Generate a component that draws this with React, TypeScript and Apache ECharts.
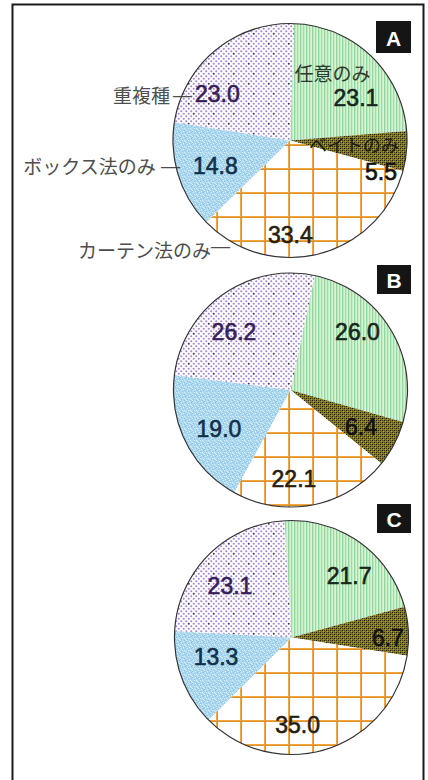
import React, { useEffect, useRef } from 'react';
import * as echarts from 'echarts';

// ---- data ----
const categories = ['任意のみ', 'ベイトのみ', 'カーテン法のみ', 'ボックス法のみ', '重複種'];
const panelLabels = ['A', 'B', 'C'];
const valuesA = [23.1, 5.5, 33.4, 14.8, 23.0];
const valuesB = [26.0, 6.4, 22.1, 19.0, 26.2];
const valuesC = [21.7, 6.7, 35.0, 13.3, 23.1];
const seriesValues = [valuesA, valuesB, valuesC];

// ---- layout / style ----
const pieCenters = [[290, 140.5], [290.5, 390], [291.5, 637.5]];
const pieRadius = 117;
const startAngles = [88, 78, 93.5];
const labelOffsets = [
  [[0, -10.5], [2.8, 13.9], [-110.1, 35], [-101.0, 6.8], [-74.5, 1]],
  [[14.3, -25.8], [15.9, 8.2], [-8.4, 28.7], [-16.7, 11.2], [-21, -7.8]],
  [[21.7, -11.5], [35, 3.4], [-12.9, 29], [-18, -2.8], [-17.9, -8.1]],
];
const badgeRects = [[376, 21, 35, 32], [377, 265, 34, 29], [377, 504, 34, 29]];

const VAL_FONT = '"Liberation Sans", Arial, sans-serif';
const JP_FONT = '"Noto Sans CJK JP", "Noto Sans CJK SC", sans-serif';
const valueColors = ['#16261a', '#121208', '#261d0e', '#123049', '#362056'];
const nameColor = '#4d4d4d';

function tile(w: number, h: number, draw: (ctx: CanvasRenderingContext2D) => void) {
  const c = document.createElement('canvas');
  c.width = w;
  c.height = h;
  const ctx = c.getContext('2d') as CanvasRenderingContext2D;
  draw(ctx);
  return { image: c, repeat: 'repeat', imageWidth: w, imageHeight: h };
}

function px(ctx: CanvasRenderingContext2D, color: string, pts: number[][]) {
  ctx.fillStyle = color;
  pts.forEach(([x, y]) => ctx.fillRect(x, y, 1, 1));
}

function dot(ctx: CanvasRenderingContext2D, color: string, pts: number[][], r: number) {
  ctx.fillStyle = color;
  pts.forEach(([x, y]) => {
    ctx.beginPath();
    ctx.arc(x, y, r, 0, Math.PI * 2);
    ctx.fill();
  });
}

function makePatterns() {
  const green = tile(6, 6, (ctx) => {
    const cols = ['#93d59e', '#bdebc0', '#d2f4d3', '#9cdaa6', '#c5eec7', '#d6f6d6'];
    cols.forEach((c, i) => {
      ctx.fillStyle = c;
      ctx.fillRect(i, 0, 1, 6);
    });
  });
  const olive = tile(4, 4, (ctx) => {
    ctx.fillStyle = '#7f7a22';
    ctx.fillRect(0, 0, 4, 4);
    px(ctx, '#1e1d08', [[0, 0], [2, 2]]);
    px(ctx, '#4b4813', [[0, 2], [2, 0]]);
    px(ctx, '#aea53a', [[1, 1], [3, 3]]);
  });
  const grid = tile(24, 24, (ctx) => {
    ctx.fillStyle = '#ffffff';
    ctx.fillRect(0, 0, 24, 24);
    ctx.fillStyle = '#f2a63a';
    ctx.fillRect(0, 0, 24, 2);
    ctx.fillRect(0, 0, 2, 24);
    ctx.fillStyle = 'rgba(150,90,20,0.25)';
    ctx.fillRect(0, 1, 24, 1);
    ctx.fillRect(1, 0, 1, 24);
  });
  const blue = tile(6, 6, (ctx) => {
    ctx.fillStyle = '#abd8f0';
    ctx.fillRect(0, 0, 6, 6);
    px(ctx, '#d8eef9', [[1, 0], [4, 2], [0, 4], [3, 5], [5, 3], [2, 2]]);
    px(ctx, '#8cc4e4', [[2, 1], [5, 0], [1, 3], [4, 4], [0, 5]]);
  });
  const dots = tile(20, 20, (ctx) => {
    ctx.fillStyle = '#ffffff';
    ctx.fillRect(0, 0, 20, 20);
    const pts: number[][] = [];
    for (let row = 0; row < 8; row++) {
      for (let col = 0; col < 4; col++) {
        pts.push([1.25 + col * 5 + (row % 2) * 2.5, 1.25 + row * 2.5]);
      }
    }
    const darkIdx = [5, 22];
    dot(ctx, '#a486d6', pts.filter((_, i) => darkIdx.indexOf(i) < 0), 1.05);
    dot(ctx, '#3a3150', pts.filter((_, i) => darkIdx.indexOf(i) >= 0), 1.0);
  });
  return [green, olive, grid, blue, dots];
}

const valStyle = (i: number, extra: any = {}) => ({
  fontFamily: VAL_FONT,
  fontSize: 23,
  color: valueColors[i],
  textBorderColor: valueColors[i],
  textBorderWidth: 0.6,
  lineHeight: 28,
  ...extra,
});

const richStyles: any = {
  v0: valStyle(0),
  v1: valStyle(1),
  v2: valStyle(2),
  v3: valStyle(3),
  v4: valStyle(4),
  n0: { fontFamily: JP_FONT, fontSize: 19, lineHeight: 24, color: '#2d3b2e' },
  v0p: valStyle(0, { lineHeight: 26, padding: [0, 0, 0, 47] }),
  n1: { fontFamily: JP_FONT, fontSize: 18, lineHeight: 24, color: '#1c1c0c' },
  v1p: valStyle(1, { lineHeight: 32, padding: [0, 0, 0, 54] }),
  nD: { fontFamily: JP_FONT, fontSize: 19, lineHeight: 20, padding: [28, 0, 0, 0], color: nameColor },
  dD: { fontFamily: VAL_FONT, fontSize: 19, lineHeight: 20, padding: [20, 0, 0, 0], color: nameColor },
  v2p: valStyle(2, { padding: [0, 0, 0, 38] }),
  nS: { fontFamily: JP_FONT, fontSize: 19, lineHeight: 28, padding: [0, 5, 0, 0], color: nameColor },
  dS: { fontFamily: VAL_FONT, fontSize: 19, lineHeight: 28, color: nameColor },
  v3p: valStyle(3, { padding: [0, 0, 0, 13] }),
  nS4: { fontFamily: JP_FONT, fontSize: 19, lineHeight: 28, padding: [0, 3, 0, 0], color: nameColor },
  v4p: valStyle(4, { padding: [0, 0, 0, 3] }),
};

const fmt = (v: number) => Number(v).toFixed(1);

function formatterA(p: any) {
  const i = p.dataIndex;
  const v = fmt(p.value);
  if (i === 0) return `{n0|${p.name}}\n{v0p|${v}}`;
  if (i === 1) return `{n1|${p.name}}\n{v1p|${v}}`;
  if (i === 2) return `{nD|${p.name}}{dD|—}{v2p|${v}}`;
  if (i === 3) return `{nS|${p.name}}{dS|—}{v3p|${v}}`;
  return `{nS4|${p.name}}{dS|—}{v4p|${v}}`;
}

function formatterPlain(p: any) {
  return `{v${p.dataIndex}|${fmt(p.value)}}`;
}

export default function App() {
  const ref = useRef<HTMLDivElement>(null);

  useEffect(() => {
    if (!ref.current) return;
    const chart = echarts.init(ref.current, undefined, { renderer: 'svg' });
    const patterns = makePatterns();

    const pieSeries: any[] = seriesValues.map((vals, k) => ({
      type: 'pie',
      center: pieCenters[k],
      radius: pieRadius,
      startAngle: startAngles[k],
      clockwise: true,
      silent: true,
      avoidLabelOverlap: false,
      emphasis: { disabled: true },
      label: {
        show: true,
        position: 'inside',
        color: '#222',
        formatter: k === 0 ? formatterA : formatterPlain,
        rich: richStyles,
      },
      labelLine: { show: false },
      labelLayout: (params: any) => {
        const o = labelOffsets[k][params.dataIndex];
        return { dx: o[0], dy: o[1] };
      },
      itemStyle: { borderWidth: 0 },
      data: categories.map((name, i) => ({
        name,
        value: vals[i],
        itemStyle: { color: patterns[i] },
      })),
      z: 2,
    }));

    const outlineSeries: any[] = pieCenters.map((c) => ({
      type: 'pie',
      center: c,
      radius: pieRadius,
      silent: true,
      emphasis: { disabled: true },
      label: { show: false },
      labelLine: { show: false },
      data: [{ value: 1, itemStyle: { color: 'rgba(0,0,0,0)', borderColor: '#333333', borderWidth: 1.2 } }],
      z: 3,
    }));

    const badges = panelLabels.map((t, k) => {
      const [x, y, w, h] = badgeRects[k];
      return {
        type: 'group',
        x,
        y,
        children: [
          { type: 'rect', shape: { x: 0, y: 0, width: w, height: h }, style: { fill: '#151515' } },
          {
            type: 'text',
            x: w / 2,
            y: h / 2 + 1,
            style: {
              text: t,
              fill: '#ffffff',
              font: `bold 21px ${VAL_FONT}`,
              align: 'center',
              verticalAlign: 'middle',
            },
          },
        ],
      };
    });

    chart.setOption({
      animation: false,
      backgroundColor: '#ffffff',
      graphic: [
        {
          type: 'rect',
          shape: { x: 12.5, y: 4.5, width: 411, height: 800 },
          style: { fill: 'none', stroke: '#1a1a1a', lineWidth: 2 },
          z: 10,
        },
        ...badges,
      ],
      series: [...pieSeries, ...outlineSeries],
    });

    return () => chart.dispose();
  }, []);

  return (
    <div
      ref={ref}
      style={{ position: 'absolute', left: 0, top: 0, width: 428, height: 780 }}
    />
  );
}
